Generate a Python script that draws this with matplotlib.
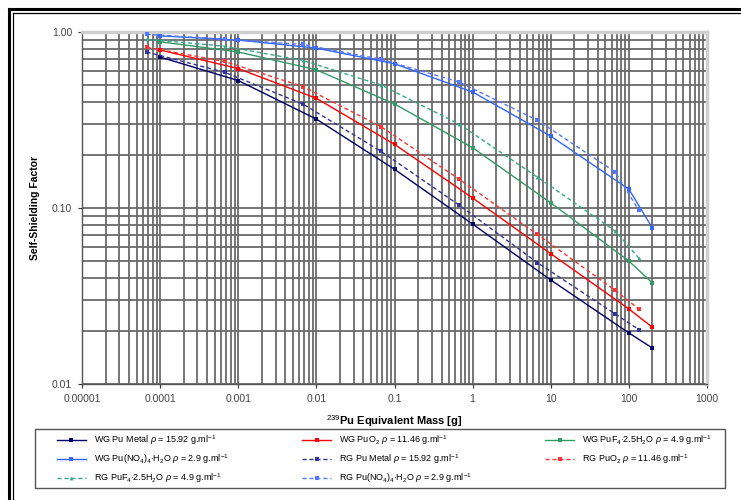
import matplotlib
matplotlib.use("Agg")
import matplotlib.pyplot as plt
from matplotlib.lines import Line2D
from matplotlib.patches import Rectangle
from matplotlib.ticker import FixedLocator, FixedFormatter, LogLocator, NullFormatter

# equivalent 239Pu mass [g]: weapons grade (WG) and reactor grade (RG) sample points
wg_mass = [1e-4, 1e-3, 1e-2, 0.1, 1, 10, 100, 200]
rg_mass = [6.7e-5, 6.7e-4, 6.7e-3, 0.067, 0.67, 6.7, 67, 134]

# self-shielding factors
wg_metal = [0.72, 0.53, 0.32, 0.166, 0.081, 0.039, 0.0195, 0.016]
wg_puo2 = [0.79, 0.62, 0.42, 0.23, 0.114, 0.055, 0.0267, 0.021]
wg_puf4 = [0.88, 0.77, 0.61, 0.39, 0.22, 0.107, 0.050, 0.0375]
wg_nitrate = [0.95, 0.90, 0.81, 0.66, 0.456, 0.256, 0.128, 0.077]
rg_metal = [0.77, 0.59, 0.39, 0.21, 0.104, 0.049, 0.025, 0.0204]
rg_puo2 = [0.82, 0.68, 0.49, 0.29, 0.146, 0.071, 0.034, 0.0267]
rg_puf4 = [0.91, 0.83, 0.69, 0.50, 0.30, 0.15, 0.074, 0.052]
rg_nitrate = [0.97, 0.91, 0.85, 0.70, 0.52, 0.316, 0.16, 0.097]

labels = [
    r"WG Pu Metal $\rho$ = 15.92 g.ml$^{-1}$",
    r"WG PuO$_2$ $\rho$ = 11.46 g.ml$^{-1}$",
    r"WG PuF$_4$$\cdot$2.5H$_2$O $\rho$ = 4.9 g.ml$^{-1}$",
    r"WG Pu(NO$_4$)$_4$$\cdot$H$_2$O $\rho$ = 2.9 g.ml$^{-1}$",
    r"RG Pu Metal $\rho$ = 15.92 g.ml$^{-1}$",
    r"RG PuO$_2$ $\rho$ = 11.46 g.ml$^{-1}$",
    r"RG PuF$_4$$\cdot$2.5H$_2$O $\rho$ = 4.9 g.ml$^{-1}$",
    r"RG Pu(NO$_4$)$_4$$\cdot$H$_2$O $\rho$ = 2.9 g.ml$^{-1}$",
]

plt.rcParams['font.family'] = ['Liberation Sans', 'DejaVu Sans']
plt.rcParams['mathtext.fontset'] = 'custom'
plt.rcParams['mathtext.rm'] = 'Liberation Sans'
plt.rcParams['mathtext.it'] = 'Liberation Sans:italic'

fig = plt.figure(figsize=(7.41, 5.0), dpi=100)
ax = fig.add_axes([82 / 741, 1 - 384 / 500, 625 / 741, 352 / 500])

series = [
    (wg_mass, wg_metal, '#000066', '-', 's'),
    (wg_mass, wg_puo2, '#ff0000', '-', 's'),
    (wg_mass, wg_puf4, '#339966', '-', 's'),
    (wg_mass, wg_nitrate, '#3366ff', '-', 's'),
    (rg_mass, rg_metal, '#333399', (0, (3, 2)), 's'),
    (rg_mass, rg_puo2, '#ff3333', (0, (3, 2)), 's'),
    (rg_mass, rg_puf4, '#33aa88', (0, (3, 2)), '^'),
    (rg_mass, rg_nitrate, '#5577ff', (0, (3, 2)), 's'),
]
handles = []
for (x, y, c, ls, m), lab in zip(series, labels):
    h, = ax.plot(x, y, color=c, linestyle=ls, linewidth=1.0, marker=m,
                 markersize=2.8, markeredgewidth=0, label=lab, zorder=3)
    handles.append(h)

ax.set_xscale('log')
ax.set_yscale('log')
ax.set_xlim(1e-5, 1000)
ax.set_ylim(0.01, 1.0)

xt = [1e-5, 1e-4, 1e-3, 1e-2, 0.1, 1, 10, 100, 1000]
ax.xaxis.set_major_locator(FixedLocator(xt))
ax.xaxis.set_major_formatter(FixedFormatter(["0.00001", "0.0001", "0.001", "0.01", "0.1",
                                             "1", "10", "100", "1000"]))
ax.xaxis.set_minor_locator(LogLocator(base=10, subs=range(2, 10), numticks=20))
ax.xaxis.set_minor_formatter(NullFormatter())
ax.yaxis.set_major_locator(FixedLocator([0.01, 0.1, 1.0]))
ax.yaxis.set_major_formatter(FixedFormatter(["0.01", "0.10", "1.00"]))
ax.yaxis.set_minor_locator(LogLocator(base=10, subs=range(2, 10), numticks=20))
ax.yaxis.set_minor_formatter(NullFormatter())

ax.grid(True, which='both', color='#6a6a6a', linewidth=1.3, zorder=0)
ax.set_axisbelow(True)
ax.tick_params(which='major', direction='out', length=3, width=0.8,
               labelsize=7.5, colors='#333333', labelcolor='#444444', pad=4)
ax.tick_params(which='minor', length=0)

for s in ['left', 'bottom']:
    ax.spines[s].set_color('#555555')
    ax.spines[s].set_linewidth(1.0)
for s in ['top', 'right']:
    ax.spines[s].set_color('#cfcfcf')
    ax.spines[s].set_linewidth(2.5)

ax.set_ylabel("Self-Shielding Factor", fontsize=7.5, fontweight='bold', labelpad=9)
ax.set_xlabel(r"$^{239}$Pu Equivalent Mass [g]", fontsize=8, fontweight='bold', labelpad=7)

# legend box
fig.add_artist(Rectangle((35 / 741, 1 - 488 / 500), 690 / 741, 59 / 500,
                         transform=fig.transFigure, facecolor='white',
                         edgecolor='#555555', linewidth=1.0))

# legend filled column-wise, so order handles to read row by row
order = [0, 3, 6, 1, 4, 7, 2, 5]
leg = fig.legend([handles[i] for i in order], [labels[i] for i in order],
                 loc='upper left', bbox_to_anchor=(57 / 741, 1 - 433 / 500, 655 / 741, 0),
                 mode='expand', ncol=3, fontsize=6.5, frameon=False,
                 handlelength=3.2, handletextpad=0.9, borderpad=0, labelspacing=0.6,
                 borderaxespad=0)

# double frame along the left and top edges
fig.add_artist(Line2D([8.7 / 741, 8.7 / 741], [0, 1 - 8.7 / 500], transform=fig.transFigure,
                      color='black', linewidth=2.2))
fig.add_artist(Line2D([8.7 / 741, 1], [1 - 8.7 / 500, 1 - 8.7 / 500], transform=fig.transFigure,
                      color='black', linewidth=2.2))
fig.add_artist(Line2D([12.5 / 741, 12.5 / 741], [0, 1 - 12.8 / 500], transform=fig.transFigure,
                      color='black', linewidth=0.9))
fig.add_artist(Line2D([12.5 / 741, 1], [1 - 12.8 / 500, 1 - 12.8 / 500], transform=fig.transFigure,
                      color='black', linewidth=0.9))

fig.savefig("out.png", dpi=100)
